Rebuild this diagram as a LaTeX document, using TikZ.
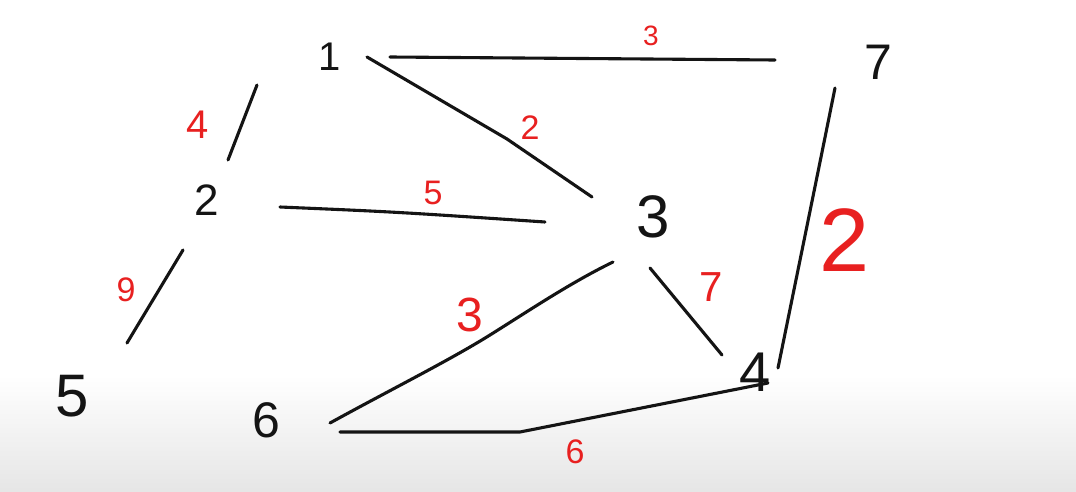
\documentclass[tikz,border=0pt]{standalone}
\usepackage{fontspec}
\setmainfont{Liberation Sans}
\usetikzlibrary{calc}
\definecolor{ink}{RGB}{20,20,20}
\definecolor{pen}{RGB}{232,32,32}
\tikzset{
  vtx/.style={text=ink, inner sep=0pt, font=\fontsize{#1}{#1}\selectfont},
  wlabel/.style={text=pen, inner sep=0pt, font=\fontsize{#1}{#1}\selectfont},
  edge/.style={draw=ink, line width=3.1pt, line cap=round, line join=round}
}
\begin{document}
\begin{tikzpicture}[x=1pt,y=-1pt]
\useasboundingbox (0,0) rectangle (1076,492);
\fill[white] (0,0) rectangle (1076,492);
\shade[top color=white, bottom color=black!10] (0,375) rectangle (1076,492);
% vertices
\node[vtx=40pt] (n1) at (330,57) {1};
\node[vtx=50pt] (n7) at (878,62) {7};
\node[vtx=44pt] (n2) at (207,200) {2};
\node[vtx=60pt] (n3) at (653,217) {3};
\node[vtx=60pt] (n5) at (72,396) {5};
\node[vtx=50pt] (n6) at (266,420) {6};
\node[vtx=56pt] (n4) at (755,372) {4};
% edges
\draw[edge] ($(n1)+(60,0)$) -- ($(n7)+(-103,-2)$);
\draw[edge] ($(n1)+(-73,28)$) -- ($(n2)+(21,-40)$);
\draw[edge] ($(n1)+(37,0)$) -- ($(n1)+(177,82)$) -- ($(n3)+(-61,-20)$);
\draw[edge] ($(n2)+(73,7)$) .. controls ($(n2)+(190,12)$) .. ($(n3)+(-108,5)$);
\draw[edge] ($(n2)+(-24,50)$) -- ($(n5)+(55,-53)$);
\draw[edge] ($(n3)+(-40,45)$) .. controls ($(n3)+(-83,66)$) and ($(n3)+(-123,93)$) .. ($(n3)+(-163,118)$) .. controls ($(n6)+(184,-60)$) and ($(n6)+(124,-30)$) .. ($(n6)+(64,3)$);
\draw[edge] ($(n3)+(-3,51)$) -- ($(n4)+(-33,-17)$);
\draw[edge] ($(n7)+(-43,26)$) .. controls ($(n7)+(-60,110)$) .. ($(n4)+(23,-4)$);
\draw[edge] ($(n6)+(74,12)$) -- ($(n6)+(254,12)$) -- ($(n4)+(13,11)$);
% weights
\node[wlabel=28pt] (w17) at (651,36) {3};
\node[wlabel=40pt] (w12) at (198,125) {4};
\node[wlabel=34pt] (w13) at (530,128) {2};
\node[wlabel=34pt] (w23) at (433,193) {5};
\node[wlabel=34pt] (w25) at (126,290) {9};
\node[wlabel=48pt] (w36) at (470,315) {3};
\node[wlabel=42pt] (w34) at (711,287) {7};
\node[wlabel=90pt] (w74) at (845,240) {2};
\node[wlabel=34pt] (w64) at (575,452) {6};
\end{tikzpicture}
\end{document}
